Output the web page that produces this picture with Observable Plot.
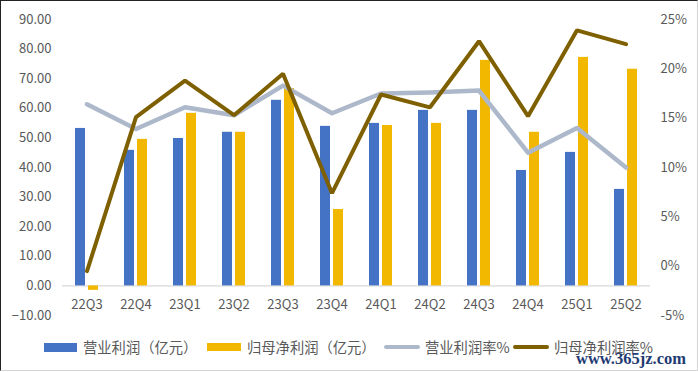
<!DOCTYPE html>
<html>
<head>
<meta charset="utf-8">
<script src="https://cdn.jsdelivr.net/npm/d3@7"></script>
<script src="https://cdn.jsdelivr.net/npm/@observablehq/plot@0.6"></script>
<style>
  html, body { margin: 0; padding: 0; background: #fff; }
  #wrap { position: relative; width: 698px; height: 372px; overflow: hidden; background: #fff;
          font-family: "Noto Sans CJK SC", "Noto Sans", sans-serif; }
  #chart { position: absolute; left: 0; top: 0; }
  #border { position: absolute; left: 0; top: 0; width: 698px; height: 371px; box-sizing: border-box;
            border-top: 1px solid #222; border-left: 1px solid #222; border-right: 1px solid #d4d4d4;
            border-bottom: 1px solid #d4d4d4; pointer-events: none; }
  .lg { position: absolute; font-size: 14.3px; color: #595959; line-height: 1; white-space: nowrap; }
  .sw { position: absolute; }
  #wm { position: absolute; left: 576px; top: 349px; font-family: "Liberation Serif", "DejaVu Serif", serif;
        font-weight: bold; font-size: 16.5px; color: #1f3b73; white-space: nowrap; }
</style>
</head>
<body>
<div id="wrap">
  <div id="chart"></div>
  <div id="legend"></div>
  <div id="wm">www.365jz.com</div>
  <div id="border"></div>
</div>
<script>
const categories = ["22Q3","22Q4","23Q1","23Q2","23Q3","23Q4","24Q1","24Q2","24Q3","24Q4","25Q1","25Q2"];
const operatingProfit = [53.2, 45.8, 49.8, 51.9, 62.7, 53.9, 54.9, 59.3, 59.3, 39.0, 45.1, 32.6];
const netProfit = [-1.5, 49.5, 58.3, 51.9, 66.7, 25.8, 54.2, 54.9, 76.2, 51.9, 77.2, 73.2];
const operatingMargin = [16.4, 13.9, 16.1, 15.3, 18.3, 15.5, 17.5, 17.6, 17.8, 11.5, 14.0, 10.0];
const netMargin = [-0.5, 15.1, 18.8, 15.3, 19.5, 7.4, 17.4, 16.1, 22.8, 15.2, 23.9, 22.5];
const leftTicks = [-10, 0, 10, 20, 30, 40, 50, 60, 70, 80, 90];
const rightTicks = [-5, 0, 5, 10, 15, 20, 25];
const seriesNames = ["营业利润（亿元）", "归母净利润（亿元）", "营业利润率%", "归母净利润率%"];
const colors = ["#4472c4", "#f2b800", "#adb9ca", "#7f6000"];

// right axis (-5%..25%) shares the frame with left axis (-10..90)
const leftDomain = [-10, 90], rightDomain = [-5, 25];
const toLeft = r => leftDomain[0] + (r - rightDomain[0]) * (leftDomain[1] - leftDomain[0]) / (rightDomain[1] - rightDomain[0]);
const fromLeft = v => rightDomain[0] + (v - leftDomain[0]) * (rightDomain[1] - rightDomain[0]) / (leftDomain[1] - leftDomain[0]);

const table = categories.map((c, i) => ({
  cat: c, op: operatingProfit[i], net: netProfit[i], opm: operatingMargin[i], nm: netMargin[i]
}));

const font = "'Noto Sans CJK SC', 'Noto Sans', sans-serif";
const chart = Plot.plot({
  width: 698, height: 330,
  marginTop: 19, marginBottom: 15, marginLeft: 62, marginRight: 48,
  x: {domain: categories, padding: 0, axis: null},
  y: {domain: leftDomain, axis: null},
  style: {fontFamily: font, fontSize: "13px", color: "#595959", background: "transparent", overflow: "visible"},
  marks: [
    Plot.axisY({anchor: "left", ticks: leftTicks, tickFormat: d3.format(".2f"), tickSize: 0, tickPadding: 11,
                fontSize: 13, fill: "#595959", label: null}),
    Plot.axisY({anchor: "right", ticks: rightTicks.map(toLeft), tickFormat: v => Math.round(fromLeft(v)) + "%",
                tickSize: 0, tickPadding: 10, fontSize: 13, fill: "#595959", label: null}),
    Plot.ruleY([0], {stroke: "#d9d9d9", strokeWidth: 1.2}),
    Plot.barY(table, {x: "cat", y: "op", fill: colors[0], insetLeft: 13, insetRight: 26}),
    Plot.barY(table, {x: "cat", y: "net", fill: colors[1], insetLeft: 26, insetRight: 13}),
    Plot.line(table, {x: "cat", y: d => toLeft(d.opm), stroke: colors[2], strokeWidth: 4.5, strokeLinejoin: "round"}),
    Plot.line(table, {x: "cat", y: d => toLeft(d.nm), stroke: colors[3], strokeWidth: 4, strokeLinejoin: "miter"}),
    Plot.text(table, {x: "cat", y: d => 0, text: "cat", dy: 19, fontSize: 13, fill: "#595959"})
  ]
});
document.getElementById("chart").appendChild(chart);

// legend (HTML, below/over SVG area)
const lg = document.getElementById("legend");
const items = [
  {sw: {left: 44, top: 343, w: 33, h: 9}, tx: 83},
  {sw: {left: 207, top: 343, w: 34, h: 8}, tx: 247},
  {sw: {left: 384, top: 345, w: 36, h: 4}, tx: 425},
  {sw: {left: 513, top: 345, w: 36, h: 4}, tx: 554}
];
items.forEach((it, i) => {
  const s = document.createElement("div");
  s.className = "sw";
  Object.assign(s.style, {left: it.sw.left + "px", top: it.sw.top + "px", width: it.sw.w + "px",
    height: it.sw.h + "px", background: colors[i], borderRadius: i >= 2 ? "2px" : "0"});
  lg.appendChild(s);
  const t = document.createElement("div");
  t.className = "lg";
  t.textContent = seriesNames[i];
  Object.assign(t.style, {left: it.tx + "px", top: "340px"});
  lg.appendChild(t);
});
</script>
</body>
</html>
